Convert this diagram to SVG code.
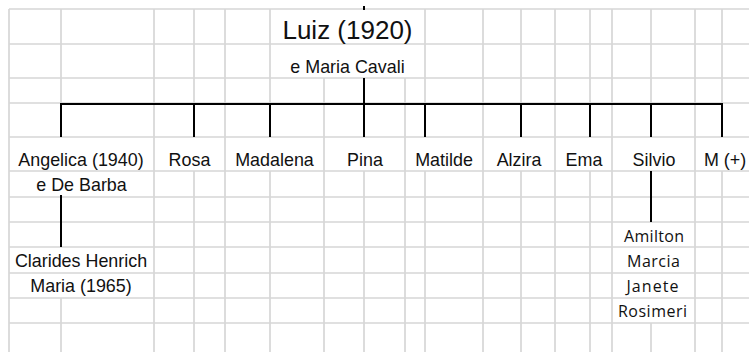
<svg xmlns="http://www.w3.org/2000/svg" width="749" height="352" viewBox="0 0 749 352">
<style>
.g{stroke:#d6d6d6;stroke-width:1.7;fill:none}
.c{stroke:#000;stroke-width:2;fill:none}
text{font-family:"Liberation Sans",Arial,sans-serif;font-size:17.9px;fill:#111;text-anchor:middle}
.big{font-size:26px}
.cal{font-family:"Open Sans","Noto Sans",sans-serif;font-size:16px}
</style>
<rect width="749" height="352" fill="#fff"/>
<g id="grid">
<path class="g" d="M9 9H749M9 44H749M9 78H749M9 103H749M9 137H749M9 171H749M9 197H749M9 222H749M9 247H749M9 273H749M9 298H749M9 323H749"/>
<path class="g" d="M9 9V352M61 9V103M61 298V352M154 9V352M194 9V103M194 171V352M225 9V352M270 9V103M270 171V352M324 78V352M364 171V352M405 78V352M425 9V103M425 171V352M483 9V352M521 9V103M521 171V352M555 9V352M590 9V103M590 171V352M612 9V352M651 9V103M651 323V352M695 9V352M722 9V103M722 171V352"/>
</g>
<g id="connectors">
<path class="c" d="M364 6V10"/>
<path class="c" d="M364 78V104"/>
<path class="c" d="M61 104H722"/>
<path class="c" d="M61 103V137M194 103V137M270 103V137M364 103V137M425 103V137M521 103V137M590 103V137M651 103V137M722 103V137"/>
<path class="c" d="M61 195V247"/>
<path class="c" d="M651 171V222"/>
</g>
<g id="luiz"><text class="big" x="347.5" y="39">Luiz (1920)</text><text x="347.5" y="72.5">e Maria Cavali</text></g>
<g id="angelica"><text x="81" y="165.5">Angelica (1940)</text><text x="81.5" y="190.5">e De Barba</text></g>
<g id="rosa"><text x="189.5" y="165.5">Rosa</text></g>
<g id="madalena"><text x="274.5" y="165.5">Madalena</text></g>
<g id="pina"><text x="365" y="165.5">Pina</text></g>
<g id="matilde"><text x="444" y="165.5">Matilde</text></g>
<g id="alzira"><text x="519" y="165.5">Alzira</text></g>
<g id="ema"><text x="584" y="165.5">Ema</text></g>
<g id="silvio"><text x="654" y="165.5">Silvio</text></g>
<g id="m"><text x="725" y="165.5">M (+)</text></g>
<g id="claride"><text x="81" y="266.5">Clarides Henrich</text><text x="81" y="291.5">Maria (1965)</text></g>
<g id="silvio-children">
<text class="cal" x="654" y="241.5" textLength="60" lengthAdjust="spacing">Amilton</text>
<text class="cal" x="653.5" y="266.5" textLength="53" lengthAdjust="spacing">Marcia</text>
<text class="cal" x="652.5" y="291.5" textLength="52" lengthAdjust="spacing">Janete</text>
<text class="cal" x="652.5" y="316.5" textLength="69" lengthAdjust="spacing">Rosimeri</text>
</g>
</svg>
